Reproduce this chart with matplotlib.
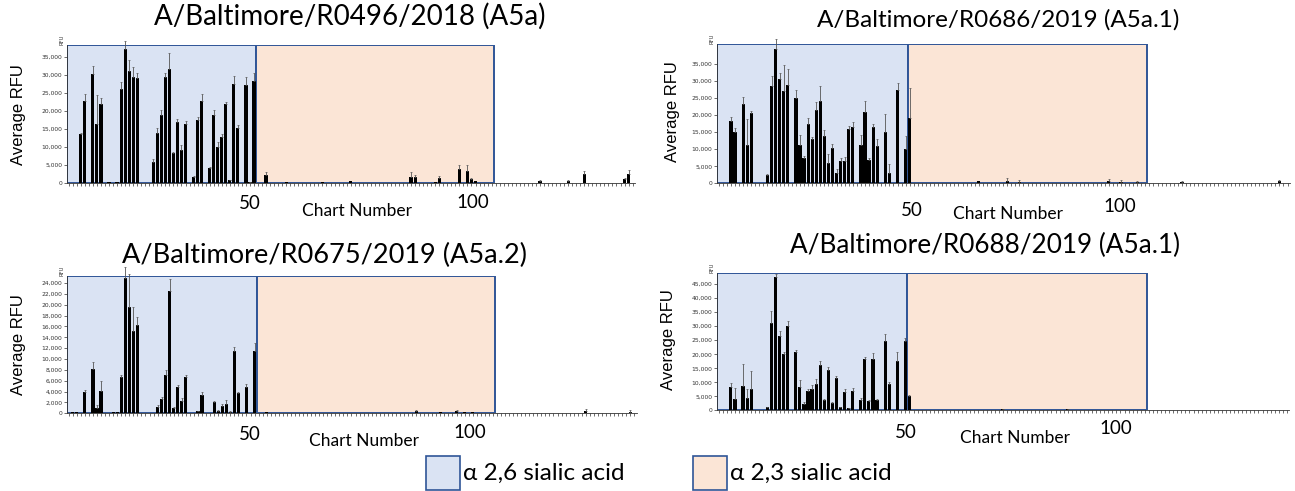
import numpy as np
import matplotlib
matplotlib.use("Agg")
import matplotlib.pyplot as plt  # noqa: E402
from matplotlib.patches import Rectangle  # noqa: E402
from matplotlib.ticker import FuncFormatter  # noqa: E402

W, H = 1295, 491
N_CHARTS = 141
BLUE_END, ORANGE_END = 47.5, 106.5

titles = ["A/Baltimore/R0496/2018 (A5a)", "A/Baltimore/R0686/2019 (A5a.1)",
          "A/Baltimore/R0675/2019 (A5a.2)", "A/Baltimore/R0688/2019 (A5a.1)"]
legend_labels = ["\u03b1 2,6 sialic acid", "\u03b1 2,3 sialic acid"]

# charts 1-48 (alpha 2,6 block + first alpha 2,3 chart), RFU
r0496_head = [150, 200, 150, 13500, 22800, 100, 30200, 16500, 22000, 100, 400, 100,
              250, 26000, 37000, 31000, 29500, 29000, 100, 150, 100, 6000, 14000, 19000,
              29300, 31500, 8300, 17000, 9200, 16300, 150, 1800, 17500, 22800, 150, 4200,
              18800, 9900, 12700, 21800, 800, 27400, 15400, 150, 27300, 300, 28200, 0]
r0496_head_err = [0, 0, 0, 500, 1900, 0, 2300, 7800, 1500, 0, 0, 0,
                  0, 2000, 2300, 3200, 2700, 1500, 0, 0, 0, 600, 1200, 1300,
                  1200, 4500, 300, 700, 1300, 800, 0, 100, 800, 1800, 0, 300,
                  1400, 1500, 1000, 600, 200, 2300, 800, 0, 2100, 100, 2300, 0]
r0496_tail = {50: 2200, 55: 300, 64: 400, 65: 200, 66: 200, 71: 500, 86: 1800, 87: 1800,
              92: 450, 93: 1500, 98: 4000, 100: 3300, 101: 1300, 102: 600, 118: 500,
              125: 500, 129: 2500, 139: 1200, 140: 2600}
r0496_tail_err = {50: 800, 86: 1200, 87: 500, 93: 600, 98: 1000, 100: 1700, 101: 300,
                  118: 400, 125: 300, 129: 900, 139: 300, 140: 1000}

r0686_head = [50, 50, 50, 18300, 15000, 50, 23300, 11200, 20600, 50, 50, 200,
              2500, 28600, 39300, 30500, 27100, 29000, 50, 25100, 11100, 7400, 17500, 13000,
              21500, 24100, 13900, 6000, 10500, 2900, 6600, 6600, 15800, 16400, 50, 11100,
              20900, 6800, 16600, 11000, 50, 15200, 3100, 50, 27400, 50, 10000, 19200]
r0686_head_err = [0, 0, 0, 1300, 1200, 0, 2000, 7600, 600, 0, 0, 0,
                  200, 2800, 3200, 1800, 7500, 4500, 0, 2300, 3000, 600, 1600, 700,
                  2300, 4400, 1600, 2600, 900, 1300, 800, 1200, 1100, 1500, 0, 3200,
                  3300, 600, 700, 1900, 0, 5000, 2500, 0, 2000, 0, 3900, 8800]
r0686_tail = {55: 200, 65: 600, 72: 700, 75: 300, 86: 200, 93: 200, 97: 800, 100: 300,
              104: 300, 115: 300, 139: 700}
r0686_tail_err = {72: 900, 75: 800, 97: 500, 100: 600, 104: 500, 115: 400, 139: 200}

r0675_head = [100, 150, 200, 100, 3900, 100, 8200, 1000, 4100, 100, 100, 150,
              150, 6600, 25000, 19600, 15200, 16300, 100, 100, 100, 100, 1100, 2700,
              7100, 22600, 1000, 4900, 2200, 6600, 100, 100, 400, 3300, 100, 100,
              2100, 500, 1400, 1800, 300, 11400, 3700, 100, 4800, 100, 11500, 0]
r0675_head_err = [0, 0, 0, 0, 400, 0, 1300, 600, 1800, 0, 0, 0,
                  0, 500, 2000, 6100, 4300, 1400, 0, 0, 0, 0, 400, 250,
                  900, 2100, 250, 300, 550, 500, 0, 0, 100, 700, 0, 0,
                  200, 100, 250, 700, 100, 800, 200, 0, 550, 0, 1500, 0]
r0675_tail = {50: 200, 87: 400, 93: 300, 97: 500, 99: 300, 101: 300, 129: 500, 140: 300}
r0675_tail_err = {87: 200, 97: 200, 129: 300, 140: 300}

r0688_head = [50, 50, 50, 8300, 3900, 50, 8600, 4400, 7600, 50, 50, 100,
              1000, 31300, 47700, 26500, 20000, 30000, 100, 20700, 8400, 2300, 7000, 7700,
              9400, 16100, 3600, 14500, 2600, 11700, 1100, 6700, 700, 7000, 100, 3600,
              18400, 3200, 18200, 3700, 100, 24800, 9500, 100, 17500, 100, 24800, 5100]
r0688_head_err = [0, 0, 0, 1500, 4000, 0, 8000, 3200, 6400, 0, 0, 0,
                  200, 4000, 1000, 1800, 700, 1900, 0, 800, 2400, 600, 500, 1200,
                  1800, 1500, 400, 1000, 500, 700, 200, 900, 200, 1000, 0, 900,
                  600, 400, 2100, 500, 0, 2500, 500, 0, 3300, 0, 1000, 500]
r0688_tail = {71: 300, 87: 300}
r0688_tail_err = {71: 200, 87: 200}


def series(head, tail):
    vals = np.zeros(N_CHARTS)
    vals[:len(head)] = head
    for k, v in tail.items():
        vals[k - 1] = v
    return vals


def fig_rect(l, t, r, b):
    return [l / W, 1 - b / H, (r - l) / W, (b - t) / H]


def ftext(x, y, s, **kw):
    fig.text(x / W, 1 - y / H, s, ha="center", va="center", **kw)


def panel(box, vals, errs, ymax, yticks, title, title_xy, title_fs, ylab_xy, cn_xy, n50_xy, n100_xy):
    ax = fig.add_axes(fig_rect(*box))
    x = np.arange(1, N_CHARTS + 1)
    ax.axvspan(0.5, BLUE_END, facecolor="#dae3f3", edgecolor="#2f5597", lw=1.4, zorder=0)
    ax.axvspan(BLUE_END, ORANGE_END, facecolor="#fbe5d6", edgecolor="#2f5597", lw=1.4, zorder=0)
    ax.bar(x, vals, width=0.78, color="black", zorder=2)
    m = errs > 0
    ax.errorbar(x[m], vals[m], yerr=[np.zeros(m.sum()), errs[m]], fmt="none",
                ecolor="#555", elinewidth=0.6, capsize=1.0, capthick=0.5, zorder=3, clip_on=False)
    ax.set_xlim(0.5, N_CHARTS + 0.6)
    ax.set_ylim(0, ymax)
    ax.set_xticks(x)
    ax.set_xticklabels([])
    ax.set_yticks(yticks)
    ax.yaxis.set_major_formatter(FuncFormatter(lambda v, p: f"{int(v):,}"))
    ax.tick_params(axis="both", length=2, width=0.5, pad=1, labelsize=4.3, colors="#333")
    for s in ("top", "right"):
        ax.spines[s].set_visible(False)
    for s in ("left", "bottom"):
        ax.spines[s].set_linewidth(0.6)
        ax.spines[s].set_color("#333")
    ax.text(-0.004, 1.0, "RFU", transform=ax.transAxes, rotation=90, fontsize=3.8,
            ha="right", va="bottom", color="#333")
    ftext(*title_xy, title, fontsize=title_fs, family="Lato")
    ftext(*ylab_xy, "Average RFU", fontsize=12, rotation=90, family="Liberation Sans")
    ftext(*cn_xy, "Chart Number", fontsize=12.5, family="Lato")
    ftext(*n50_xy, "50", fontsize=13.5, family="Lato")
    ftext(*n100_xy, "100", fontsize=13.5, family="Lato")
    return ax


fig = plt.figure(figsize=(W / 100, H / 100), dpi=100)

panel((66.7, 45, 635, 183.3), series(r0496_head, r0496_tail), series(r0496_head_err, r0496_tail_err),
      38240, range(0, 35001, 5000), titles[0], (350, 16), 20,
      (19, 115), (357, 211), (250, 204), (473, 203))
panel((716.7, 44.3, 1290, 183.3), series(r0686_head, r0686_tail), series(r0686_head_err, r0686_tail_err),
      40800, range(0, 35001, 5000), titles[1], (998, 20), 17.5,
      (672, 112), (1008, 214), (912, 210), (1120, 206))
panel((66.7, 275.7, 636.7, 413.3), series(r0675_head, r0675_tail), series(r0675_head_err, r0675_tail_err),
      25350, range(0, 24001, 2000), titles[2], (325, 255), 19.5,
      (19, 345), (364, 441), (250, 434), (470, 432))
panel((716.7, 273.3, 1289.3, 410.3), series(r0688_head, r0688_tail), series(r0688_head_err, r0688_tail_err),
      48900, range(0, 45001, 5000), titles[3], (985, 245), 18.8,
      (668, 340), (1015, 438), (906, 432), (1116, 428))

# legend boxes at the bottom
for (x0, tx), fc, lab in zip([(426, 463), (693, 730)], ["#dae3f3", "#fbe5d6"], legend_labels):
    fig.add_artist(Rectangle((x0 / W, 1 - 490 / H), 34 / W, 34 / H, transform=fig.transFigure,
                             facecolor=fc, edgecolor="#2f5597", lw=1.2))
    fig.text(tx / W, 1 - 473 / H, lab, ha="left", va="center", fontsize=17.5, family="Lato")

fig.savefig("out.png", dpi=100)
